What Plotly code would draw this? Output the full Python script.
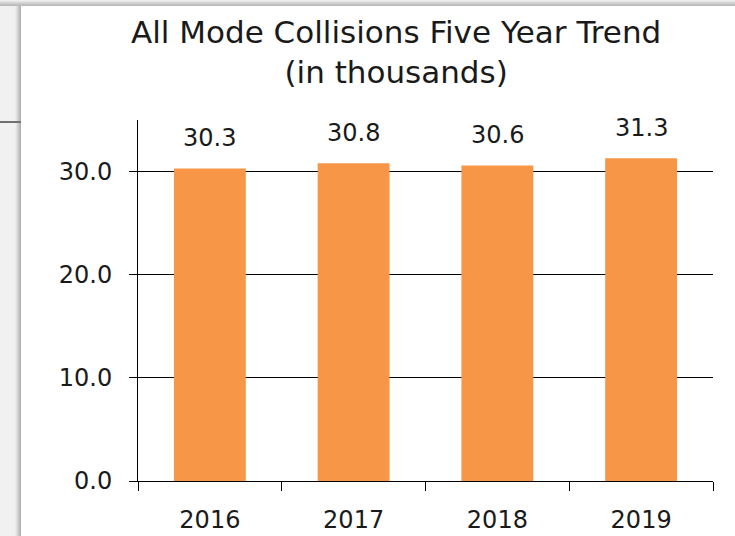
import plotly.graph_objects as go

years = ["2016", "2017", "2018", "2019"]
collisions = [30.3, 30.8, 30.6, 31.3]
y_ticks = [0, 10, 20, 30]
y_tick_labels = ["0.0", "10.0", "20.0", "30.0"]
title_text = "All Mode Collisions Five Year Trend<br>(in thousands)"

W, H = 735, 536
FONT = "Century Gothic, URW Gothic, DejaVu Sans, sans-serif"
TXT = "#1a1a1a"

def px(x):
    return x / W

def py(y):
    return 1 - y / H

fig = go.Figure()
fig.add_trace(go.Bar(
    x=years, y=collisions, marker=dict(color="#F79646", line=dict(width=0)),
    hoverinfo="x+y",
))

shapes = []
shapes.append(dict(type="rect", xref="paper", yref="paper", x0=px(0), x1=px(21), y0=py(536), y1=py(0),
                   fillcolor="#f1f1f1", line=dict(width=0), layer="below"))
grad = ["#ebebeb", "#e2e2e2", "#d6d6d6", "#c9c9c9", "#bcbcbc", "#b2b2b2"]
for i, c in enumerate(grad):
    shapes.append(dict(type="rect", xref="paper", yref="paper", x0=px(15 + i), x1=px(16 + i), y0=py(536), y1=py(0),
                       fillcolor=c, line=dict(width=0), layer="below"))
top = ["#eeeeee", "#e4e4e4", "#d8d8d8", "#cccccc", "#c2c2c2", "#bababa"]
for i, c in enumerate(top):
    shapes.append(dict(type="rect", xref="paper", yref="paper", x0=px(0), x1=px(735), y0=py(i + 1), y1=py(i),
                       fillcolor=c, line=dict(width=0), layer="below"))
shapes.append(dict(type="line", xref="paper", yref="paper", x0=px(0), x1=px(21), y0=py(122), y1=py(122),
                   line=dict(color="#707070", width=2), layer="below"))

annotations = [dict(
    text=title_text, xref="paper", yref="paper", x=px(396), y=py(52),
    xanchor="center", yanchor="middle", showarrow=False,
    font=dict(family=FONT, size=31, color=TXT), align="center",
)]
for i, v in enumerate(collisions):
    annotations.append(dict(
        text=f"{v:.1f}", x=i, y=v, xref="x", yref="y", yanchor="middle",
        yshift=30, showarrow=False, font=dict(family=FONT, size=24, color=TXT),
    ))

fig.update_layout(
    width=W, height=H, margin=dict(l=0, r=0, t=0, b=0, pad=0, autoexpand=False),
    paper_bgcolor="white", plot_bgcolor="white",
    showlegend=False, shapes=shapes, annotations=annotations,
    bargap=0.5,
    font=dict(family=FONT, size=24, color=TXT),
    xaxis=dict(
        domain=[px(138), px(713)], type="category",
        categoryorder="array", categoryarray=years, range=[-0.5, 3.5],
        showline=True, linecolor="black", linewidth=1,
        ticks="outside", tickson="boundaries", ticklen=9, tickcolor="black",
        showgrid=False, tickfont=dict(family=FONT, size=24, color=TXT),
        ticklabelstandoff=17,
        tickangle=0, automargin=False, fixedrange=True,
    ),
    yaxis=dict(
        domain=[py(481), py(120)], range=[0, 35],
        tickvals=y_ticks, ticktext=y_tick_labels,
        showgrid=True, gridcolor="black", gridwidth=1,
        showline=True, linecolor="black", linewidth=1,
        ticks="outside", ticklen=8, tickcolor="black",
        zeroline=False, tickfont=dict(family=FONT, size=24, color=TXT),
        ticklabelstandoff=12, automargin=False, fixedrange=True,
    ),
)

fig.write_html(
    "out.html",
    config={"displayModeBar": False},
    post_script="document.body.style.margin='0';document.body.style.padding='0';",
)
